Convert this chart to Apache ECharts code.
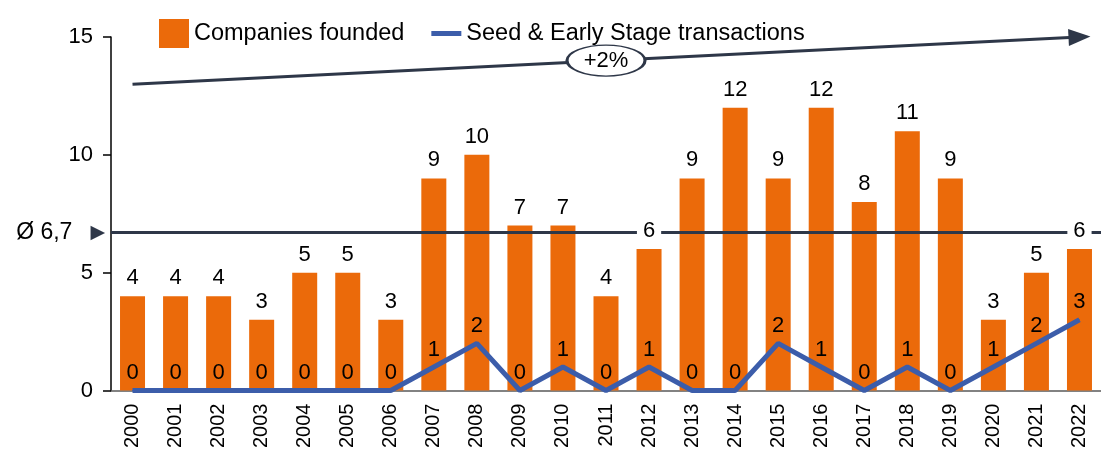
<!DOCTYPE html>
<html>
<head>
<meta charset="utf-8">
<script src="https://cdn.jsdelivr.net/npm/echarts@6/dist/echarts.min.js"></script>
<style>
  html, body { margin: 0; padding: 0; background: #fff; }
  #chart { width: 1101px; height: 451px; }
</style>
</head>
<body>
<div id="chart"></div>
<script>
var years = ["2000", "2001", "2002", "2003", "2004", "2005", "2006", "2007", "2008", "2009", "2010", "2011",
  "2012", "2013", "2014", "2015", "2016", "2017", "2018", "2019", "2020", "2021", "2022"];
var founded = [4, 4, 4, 3, 5, 5, 3, 9, 10, 7, 7, 4, 6, 9, 12, 9, 12, 8, 11, 9, 3, 5, 6];
var transactions = [0, 0, 0, 0, 0, 0, 0, 1, 2, 0, 1, 0, 1, 0, 0, 2, 1, 0, 1, 0, 1, 2, 3];
var yTicks = [0, 5, 10, 15];
var avgValue = 6.7;
var avgLabel = "Ø 6,7";
var trendStart = [0, 13];
var trendEnd = [22, 15];
var trendPos = [11, 14];
var trendLabel = "+2%";

var FONT = "Liberation Sans";
var ORANGE = "#EB6A0A";
var BLUE = "#3C5DAA";
var NAVY = "#2E3748";

var chartDom = document.getElementById("chart");
var myChart = echarts.init(chartDom);

var option = {
  animation: false,
  textStyle: { fontFamily: FONT },
  legend: {
    data: [
      { name: "Companies founded", icon: "rect" },
      { name: "Seed & Early Stage transactions", icon: "path://M0,0L0,0M0,12L30,12L30,17L0,17ZM30,29L30,29" }
    ],
    left: 154,
    top: 14,
    itemWidth: 30,
    itemHeight: 29,
    itemGap: 27,
    textStyle: { fontSize: 23.5, color: "#000", fontFamily: FONT }
  },
  grid: { left: 111, top: 37, width: 992, height: 355 },
  xAxis: {
    type: "category",
    data: years,
    axisLine: { lineStyle: { color: "#595959", width: 1.5 } },
    axisTick: { show: false },
    axisLabel: { rotate: 90, fontSize: 20, color: "#000", margin: 13, interval: 0 }
  },
  yAxis: {
    type: "value",
    min: yTicks[0],
    max: yTicks[yTicks.length - 1],
    interval: 5,
    splitLine: { show: false },
    axisLine: { show: true, lineStyle: { color: "#000", width: 1.5 } },
    axisTick: { show: true, length: 8, lineStyle: { color: "#000", width: 1.5 } },
    axisLabel: { fontSize: 22, color: "#000", margin: 18 }
  },
  series: [
    {
      name: "Companies founded",
      type: "bar",
      data: founded,
      barWidth: 25,
      barGap: "-100%",
      itemStyle: { color: ORANGE },
      markLine: {
        z: 5,
        silent: true,
        animation: false,
        symbol: ["none", "none"],
        lineStyle: { color: NAVY, width: 3, type: "solid" },
        label: { show: false },
        data: [
          {
            yAxis: avgValue,
            label: {
              show: true,
              position: "start",
              distance: 6,
              formatter: "{a|" + avgLabel + "}{b|▶}",
              rich: {
                a: { fontSize: 23, color: "#000", fontFamily: FONT },
                b: { fontSize: 19, color: NAVY, fontFamily: "DejaVu Sans", padding: [0, 0, 0, 18] }
              }
            }
          },
          [
            { coord: trendStart, symbol: "none" },
            { coord: trendEnd, symbol: "triangle", symbolSize: [17, 22] }
          ]
        ]
      },
      markPoint: {
        z: 7,
        silent: true,
        data: [
          {
            coord: trendPos,
            symbol: "circle",
            symbolSize: [78, 31],
            itemStyle: { color: "#fff", borderColor: NAVY, borderWidth: 2 },
            label: { show: true, formatter: trendLabel, fontSize: 22, color: "#000", fontFamily: FONT }
          }
        ]
      }
    },
    {
      name: "founded-labels",
      type: "bar",
      data: founded,
      barWidth: 25,
      barGap: "-100%",
      z: 6,
      silent: true,
      itemStyle: { color: "rgba(0,0,0,0)" },
      label: {
        show: true,
        position: "top",
        distance: 7,
        fontSize: 22,
        color: "#000",
        fontFamily: FONT,
        backgroundColor: "#fff",
        padding: [0, 6]
      }
    },
    {
      name: "Seed & Early Stage transactions",
      type: "line",
      data: transactions,
      z: 4,
      symbol: "circle",
      symbolSize: 1,
      showSymbol: true,
      lineStyle: { color: BLUE, width: 5 },
      itemStyle: { color: BLUE },
      label: {
        show: true,
        position: "top",
        distance: 6,
        fontSize: 22,
        color: "#000",
        fontFamily: FONT
      }
    }
  ]
};

option && myChart.setOption(option);
</script>
</body>
</html>
